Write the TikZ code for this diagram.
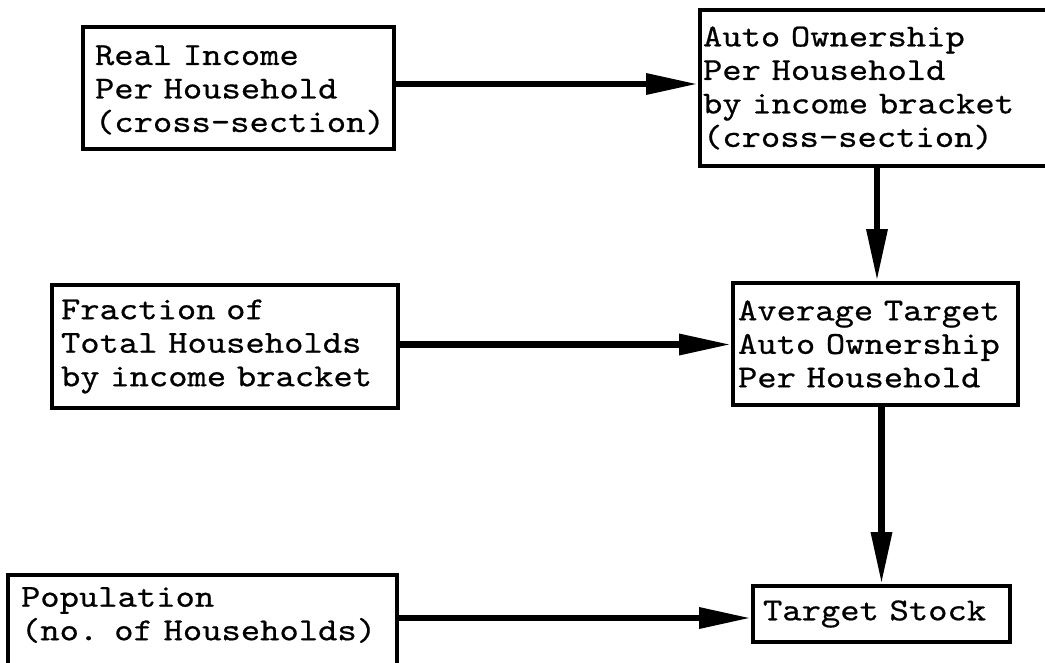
\documentclass[tikz,border=0pt]{standalone}
\usepackage{fontspec}
\newfontfamily\tw{lmmono10-regular.otf}[FakeStretch=1.15,FakeBold=0.6]
\usetikzlibrary{arrows.meta}
\hyphenpenalty=10000
\exhyphenpenalty=10000
\spaceskip=19.3pt plus 0pt minus 0pt
\newcommand\liftline[2]{\raisebox{#1}[\height][\depth]{#2}}
\begin{document}
\begin{tikzpicture}[x=1pt,y=-1pt,
  box/.style={draw, line width=4pt, rectangle, inner ysep=0pt, align=left,
    font=\tw\fontsize{32}{33.5}\selectfont},
  arr/.style={line width=6.5pt, -{Triangle[length=52pt,width=20pt]}}]
\useasboundingbox (0,0) rectangle (1045,662);
\fill[white] (0,0) rectangle (1045,662);
\node[box, minimum width=311pt, minimum height=122pt, inner xsep=12pt, text width=287pt] (b1) at (238.5,88)
  {\liftline{-2pt}{Real Income}\\\liftline{-2pt}{Per Household}\\\liftline{-2pt}{(cross-section)}};
\node[box, minimum width=350pt, minimum height=156pt, inner xsep=3pt, text width=344pt] (b2) at (875,88)
  {Auto Ownership\\Per Household\\by income bracket\\(cross-section)};
\node[box, minimum width=346pt, minimum height=123pt, inner xsep=9pt, text width=328pt] (b3) at (225,346.5)
  {Fraction of\\Total Households\\by income bracket};
\node[box, minimum width=285pt, minimum height=122pt, inner xsep=5pt, text width=275pt] (b4) at (875.5,344)
  {Average Target\\Auto Ownership\\Per Household};
\node[box, minimum width=389pt, minimum height=92pt, inner xsep=13pt, text width=363pt] (b5) at (202.5,621)
  {\liftline{6pt}{Population}\\\liftline{6pt}{(no. of Households)}};
\node[box, minimum width=257pt, minimum height=56pt, inner xsep=10pt, text width=237pt] (b6) at (881.5,614)
  {Target Stock};
\draw[arr] ([yshift=4pt]b1.east) -- ([yshift=4pt]b1.east -| b2.west);
\draw[arr] ([xshift=1.5pt]b4.north |- b2.south) -- ([xshift=1.5pt]b4.north);
\draw[arr] ([yshift=2pt]b3.east) -- ([yshift=2pt]b3.east -| b4.west);
\draw[arr] (b6.north |- b4.south) -- (b6.north);
\draw[arr] ([yshift=3pt]b5.east) -- ([yshift=3pt]b5.east -| b6.west);
\end{tikzpicture}
\end{document}
